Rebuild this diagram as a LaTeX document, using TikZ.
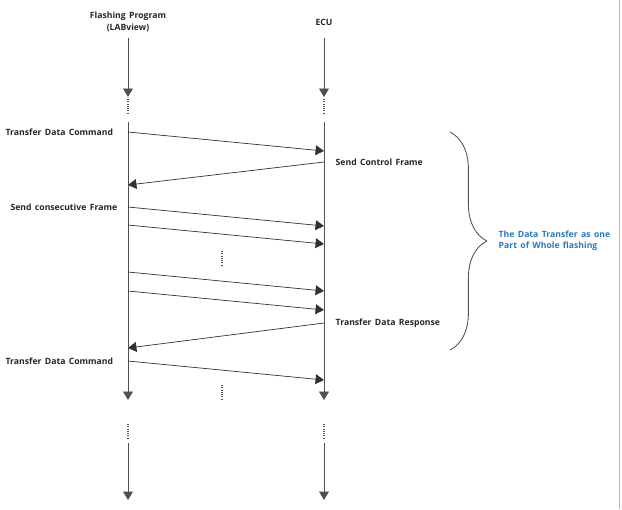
\documentclass[tikz,border=0pt]{standalone}
\usepackage{fontspec}
\setmainfont[WordSpace=1.5]{Open Sans}
\usetikzlibrary{arrows.meta,positioning,decorations.pathreplacing}

\definecolor{lifegray}{RGB}{80,80,80}
\definecolor{msggray}{RGB}{50,50,50}
\definecolor{noteblue}{RGB}{45,120,190}

\begin{document}
\begin{tikzpicture}[x=0.025cm, y=-0.025cm, line join=round,
  >={Triangle[length=6pt,width=7pt]},
  life/.style={lifegray, line width=0.6pt, ->},
  msg/.style={msggray, line width=0.5pt, ->},
  gap/.style={lifegray, line width=0.8pt, dash pattern=on 0.8pt off 0.8pt},
  lbl/.style={font=\fontsize{6.15}{8}\selectfont\bfseries, inner sep=1pt, text=black!85}]
\useasboundingbox (0,0) rectangle (622,509);
\draw[gray!55, line width=0.5pt] (619,0) -- (619,509);

% actors
\node[lbl, align=center] (flash) at (128,22) {Flashing Program\\(LABview)};
\node[lbl] (ecu) at (324,22) {ECU};

% lifelines
\foreach \x/\n in {128/F, 324/E} {
  \coordinate (\n a) at (\x,38);
  \coordinate (\n b) at (\x,97);
  \coordinate (\n c) at (\x,122);
  \coordinate (\n d) at (\x,400);
  \coordinate (\n e) at (\x,443);
  \coordinate (\n f) at (\x,500);
  \draw[life] (\n a) -- (\n b);
  \draw[gap] (\x,99) -- (\x,113);
  \draw[life] (\n c) -- (\n d);
  \draw[gap] (\x,424) -- (\x,438);
  \draw[life] (\n e) -- (\n f);
}

% message ends
\coordinate (F1) at (128,132); \coordinate (E1) at (324,151);
\coordinate (E2) at (324,162); \coordinate (F2) at (128,185);
\coordinate (F3) at (128,207); \coordinate (E3) at (324,226);
\coordinate (F4) at (128,225); \coordinate (E4) at (324,244);
\coordinate (F5) at (128,272); \coordinate (E5) at (324,291);
\coordinate (F6) at (128,291); \coordinate (E6) at (324,310);
\coordinate (E7) at (324,323); \coordinate (F7) at (128,348);
\coordinate (F8) at (128,361); \coordinate (E8) at (324,380);

\draw[msg] (F1) -- (E1);
\draw[msg] (E2) -- (F2);
\draw[msg] (F3) -- (E3);
\draw[msg] (F4) -- (E4);
\draw[msg] (F5) -- (E5);
\draw[msg] (F6) -- (E6);
\draw[msg] (E7) -- (F7);
\draw[msg] (F8) -- (E8);

\draw[gap] (222,251) -- (222,266);
\draw[gap] (222,385) -- (222,400);

% labels
\node[lbl, left=3.3mm of F1] (cmd1) {Transfer Data Command};
\node[lbl, right=2.5mm of E2] (ctrl) {Send Control Frame};
\node[lbl, left=2.3mm of F3] (cons) {Send consecutive Frame};
\node[lbl, right=2.5mm of E7] (resp) {Transfer Data Response};
\node[lbl, left=3.3mm of F8] (cmd2) {Transfer Data Command};

% brace and note
\draw[lifegray, line width=0.6pt, decorate, decoration={brace, amplitude=0.92cm}]
  (450,132) -- (450,350);
\coordinate (tip) at (487,241);
\node[lbl, text=noteblue, align=left, right=2.5mm of tip] (note)
  {The Data Transfer as one\\Part of Whole flashing};
\end{tikzpicture}
\end{document}
